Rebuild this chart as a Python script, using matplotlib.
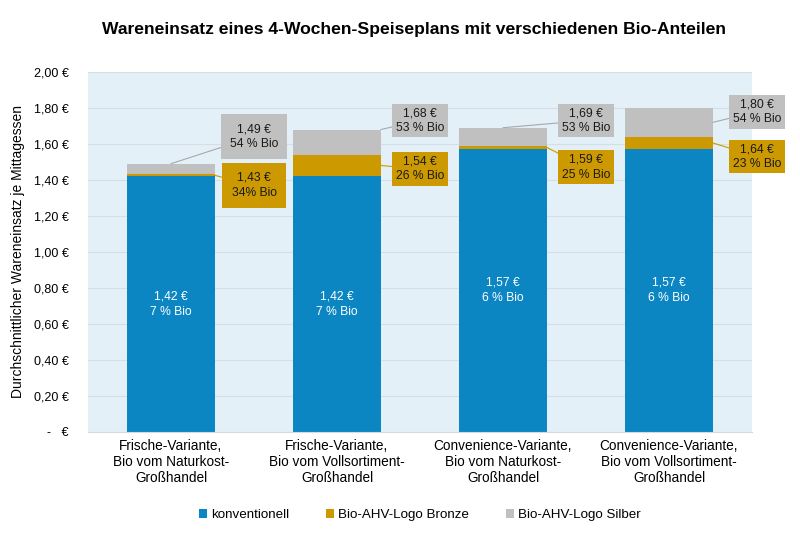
import numpy as np
import matplotlib as mpl
from matplotlib import pyplot as plt

plt.rcParams['font.family'] = ['Liberation Sans', 'DejaVu Sans']

# Daten
kategorien = ["Frische-Variante,\nBio vom Naturkost-\nGroßhandel",
              "Frische-Variante,\nBio vom Vollsortiment-\nGroßhandel",
              "Convenience-Variante,\nBio vom Naturkost-\nGroßhandel",
              "Convenience-Variante,\nBio vom Vollsortiment-\nGroßhandel"]
konventionell = [1.42, 1.42, 1.57, 1.57]
bronze_gesamt = [1.43, 1.54, 1.59, 1.64]
silber_gesamt = [1.49, 1.68, 1.69, 1.80]
bio_konv = ["7 % Bio", "7 % Bio", "6 % Bio", "6 % Bio"]
bio_bronze = ["34% Bio", "26 % Bio", "25 % Bio", "23 % Bio"]
bio_silber = ["54 % Bio", "53 % Bio", "53 % Bio", "54 % Bio"]
# Position der Beschriftungskästen
silber_lab_y = [1.64, 1.73, 1.73, 1.78]
bronze_lab_y = [1.37, 1.46, 1.47, 1.53]

blau = '#0B86C3'
gold = '#CC9A00'
grau = '#C0C0C0'

def euro(v):
    return f"{v:.2f} €".replace('.', ',')

konv = np.array(konventionell)
bronze = np.array(bronze_gesamt) - konv
silber = np.array(silber_gesamt) - np.array(bronze_gesamt)
x = np.arange(len(kategorien))
w = 0.53

# Ankerpunkte der Silber-Linien (wie im Original von Hand gesetzt)
silber_anker = [(0, silber_gesamt[0]), (1 + w / 2, silber_gesamt[1]),
                (2, silber_gesamt[2]), (3 + w / 2, silber_gesamt[3] - silber[3] / 2)]

fig = plt.figure(figsize=(8, 5.33), dpi=100)
ax = fig.add_axes([0.11, 0.19, 0.83, 0.675])
ax.set_facecolor('#E4F0F8')

ax.bar(x, konv, w, color=blau, label='konventionell')
ax.bar(x, bronze, w, bottom=konv, color=gold, label='Bio-AHV-Logo Bronze')
ax.bar(x, silber, w, bottom=np.array(bronze_gesamt), color=grau,
       label='Bio-AHV-Logo Silber')

for i in x:
    ax.text(i, konv[i] / 2, euro(konventionell[i]) + "\n" + bio_konv[i],
            ha='center', va='center', color='white', fontsize=8.7, linespacing=1.35)
    pad = 0.75 if i == 0 else 0.3
    lx = i + 0.5 + 0.03 * (i == 3)
    # Silber
    ax.annotate(euro(silber_gesamt[i]) + "\n" + bio_silber[i],
                xy=silber_anker[i], xytext=(lx, silber_lab_y[i]),
                ha='center', va='center', fontsize=8.7, linespacing=1.3,
                color='#1a1a1a',
                bbox=dict(boxstyle=f'square,pad={pad}', fc=grau, ec='none'),
                arrowprops=dict(arrowstyle='-', color='#A8A8A8', lw=0.8,
                                shrinkA=0, shrinkB=0),
                annotation_clip=False)
    # Bronze
    ax.annotate(euro(bronze_gesamt[i]) + "\n" + bio_bronze[i],
                xy=(i + w / 2, bronze_gesamt[i] - bronze[i] / 2),
                xytext=(lx, bronze_lab_y[i]),
                ha='center', va='center', fontsize=8.7, linespacing=1.3,
                color='#1a1a1a',
                bbox=dict(boxstyle=f'square,pad={pad}', fc=gold, ec='none'),
                arrowprops=dict(arrowstyle='-', color=gold, lw=0.8,
                                shrinkA=0, shrinkB=0),
                annotation_clip=False)

ax.set_xlim(-0.5, 3.5)
ax.set_ylim(0, 2.0)
yt = np.arange(0, 2.01, 0.2)
ax.set_yticks(yt)
ax.set_yticklabels(["-   €"] + [euro(v) for v in yt[1:]])
ax.set_xticks(x)
ax.set_xticklabels(kategorien, fontsize=9.8, linespacing=1.18)
ax.tick_params(axis='y', length=0, labelsize=9, pad=14)
ax.tick_params(axis='x', length=0, pad=5)
ax.grid(axis='y', color='#D5DEE6', lw=0.8)
ax.set_axisbelow(True)
for s in ['top', 'right', 'left']:
    ax.spines[s].set_visible(False)
ax.spines['bottom'].set_color('#D9D9D9')

ax.set_ylabel("Durchschnittlicher Wareneinsatz je Mittagessen", fontsize=10, labelpad=6)
fig.suptitle("Wareneinsatz eines 4-Wochen-Speiseplans mit verschiedenen Bio-Anteilen",
             fontsize=12.6, fontweight='bold', x=0.518, y=0.958)

fig.legend(loc='lower center', ncol=3, frameon=False, fontsize=9.6,
           bbox_to_anchor=(0.525, 0.0), handlelength=0.6, handleheight=0.6,
           handletextpad=0.3, columnspacing=2.8)

fig.savefig("out.png", dpi=100)
